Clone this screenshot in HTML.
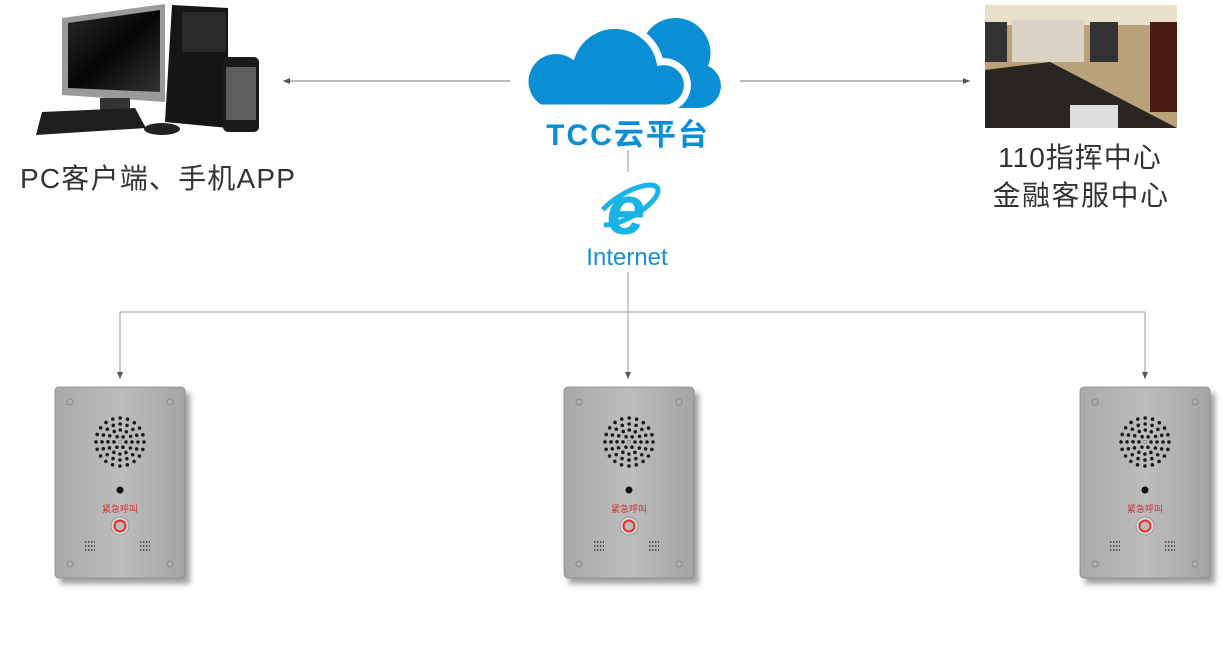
<!DOCTYPE html>
<html><head><meta charset="utf-8"><style>
html,body{margin:0;padding:0;background:#fff;}
svg{display:block;}
</style></head><body>
<svg width="1223" height="670" viewBox="0 0 1223 670" xmlns="http://www.w3.org/2000/svg">
<defs>
<linearGradient id="steel" x1="0" y1="0" x2="1" y2="0">
<stop offset="0" stop-color="#a9a9a9"/><stop offset="0.5" stop-color="#bdbdbd"/><stop offset="1" stop-color="#a4a4a4"/>
</linearGradient>
<linearGradient id="scr" x1="0" y1="0" x2="1" y2="1"><stop offset="0" stop-color="#2a2a2a"/><stop offset="0.5" stop-color="#050505"/><stop offset="1" stop-color="#333"/></linearGradient>
<filter id="bl" x="-20%" y="-20%" width="140%" height="140%"><feGaussianBlur stdDeviation="3"/></filter>
<marker id="ar" markerWidth="8" markerHeight="8" refX="7" refY="4" orient="auto" markerUnits="userSpaceOnUse"><path d="M0,1 L7,4 L0,7 Z" fill="#555"/></marker>
<g id="panel">
<rect x="5" y="6" width="130" height="191" fill="#777" opacity="0.7" filter="url(#bl)"/>
<rect x="0" y="0" width="130" height="191" rx="4" fill="url(#steel)" stroke="#888" stroke-width="0.8"/>
<circle cx="15" cy="15" r="3" fill="#b0b0b0" stroke="#888"/><circle cx="115" cy="15" r="3" fill="#b0b0b0" stroke="#888"/>
<circle cx="15" cy="177" r="3" fill="#b0b0b0" stroke="#888"/><circle cx="115" cy="177" r="3" fill="#b0b0b0" stroke="#888"/>
<g fill="none" stroke="#1a1a1a" stroke-linecap="round" stroke-width="3.6">
<circle cx="65" cy="55" r="0.1" stroke-width="3.8"/>
<circle cx="65" cy="55" r="6" stroke-dasharray="0 6.28"/>
<circle cx="65" cy="55" r="12" stroke-dasharray="0 6.28"/>
<circle cx="65" cy="55" r="18" stroke-dasharray="0 7.07"/>
<circle cx="65" cy="55" r="24" stroke-dasharray="0 7.54"/>
</g>
<circle cx="65" cy="103" r="3.5" fill="#111"/>
<circle cx="65" cy="139" r="9" fill="#d8d8d8" stroke="#999"/>
<circle cx="65" cy="139" r="5.5" fill="#bbb" stroke="#e03030" stroke-width="2"/>
<g fill="none" stroke="#333" stroke-width="1.6" stroke-dasharray="1.4 1.6">
<line x1="30" y1="155" x2="40" y2="155"/><line x1="30" y1="159" x2="40" y2="159"/><line x1="30" y1="163" x2="40" y2="163"/>
<line x1="85" y1="155" x2="95" y2="155"/><line x1="85" y1="159" x2="95" y2="159"/><line x1="85" y1="163" x2="95" y2="163"/>
</g>
</g>
</defs>

<g stroke="#9a9a9a" stroke-width="1" fill="none">
<line x1="510" y1="81" x2="283" y2="81" marker-end="url(#ar)" stroke="#777"/>
<line x1="740" y1="81" x2="970" y2="81" marker-end="url(#ar)" stroke="#777"/>
<line x1="628" y1="150" x2="628" y2="172"/>
<line x1="628" y1="272" x2="628" y2="379" marker-end="url(#ar)"/>
<polyline points="120,379 120,312 1145,312 1145,379"/>
<line x1="120" y1="360" x2="120" y2="379" marker-end="url(#ar)"/>
<line x1="1145" y1="360" x2="1145" y2="379" marker-end="url(#ar)"/>
</g>

<path d="M62,18 L165,4 L165,102 L62,95 Z" fill="#9a9a9a"/>
<path d="M68,23 L160,10 L160,92 L68,88 Z" fill="url(#scr)"/>
<rect x="100" y="98" width="30" height="14" fill="#333"/>
<path d="M42,112 L135,108 L146,128 L36,135 Z" fill="#1e1e1e"/>
<ellipse cx="162" cy="129" rx="18" ry="6" fill="#222"/>
<path d="M172,5 L228,8 L228,128 L165,122 Z" fill="#151515"/>
<rect x="182" y="12" width="44" height="40" fill="#2a2a2a"/>
<rect x="223" y="57" width="36" height="75" rx="5" fill="#1a1a1a"/>
<rect x="226" y="67" width="30" height="53" fill="#5e5e5e"/>
<text x="20" y="188" font-family="Liberation Sans, 'Noto Sans CJK SC', sans-serif" font-size="28" fill="#333" letter-spacing="1.2">PC客户端、手机APP</text>

<g fill="#0a8fd4">
<path d="M640,108 L700,108 A22,22 0 0 0 708,66 A34,34 0 0 0 643,40 A40,40 0 0 0 632,38 Z"/>
<path d="M540,108 L668,108 A22,22 0 0 0 660,62 A46,46 0 0 0 572,55 A24,24 0 0 0 540,108 Z" stroke="#fff" stroke-width="7"/>
</g>
<text x="628" y="145" text-anchor="middle" font-family="Liberation Sans, 'Noto Sans CJK SC', sans-serif" font-size="30" font-weight="bold" fill="#0a8fd4" letter-spacing="2">TCC云平台</text>

<text x="626" y="234" text-anchor="middle" font-family="Liberation Sans, sans-serif" font-size="70" font-style="italic" font-weight="bold" fill="#1ab3e8">e</text>
<ellipse cx="628" cy="205" rx="34" ry="12" fill="none" stroke="#1ab3e8" stroke-width="5" transform="rotate(-30 628 205)" stroke-dasharray="70 20 200"/>
<text x="627" y="265" text-anchor="middle" font-family="Liberation Sans, sans-serif" font-size="24" fill="#1a8fd0">Internet</text>

<rect x="985" y="5" width="192" height="123" fill="#b9a27a"/>
<rect x="985" y="5" width="192" height="20" fill="#e8e0c8"/>
<rect x="1012" y="20" width="72" height="42" fill="#d8d3c4"/>
<rect x="985" y="22" width="22" height="40" fill="#333"/>
<rect x="1090" y="22" width="28" height="40" fill="#333"/>
<rect x="1150" y="22" width="27" height="90" fill="#4a1c12"/>
<path d="M985,70 L1050,62 L1177,128 L985,128 Z" fill="#2a2520"/>
<rect x="1070" y="105" width="48" height="23" fill="#ddd"/>
<text x="1080" y="167" text-anchor="middle" font-family="Liberation Sans, 'Noto Sans CJK SC', sans-serif" font-size="28" fill="#333" letter-spacing="1">110指挥中心</text>
<text x="1081" y="205" text-anchor="middle" font-family="Liberation Sans, 'Noto Sans CJK SC', sans-serif" font-size="28" fill="#333" letter-spacing="1.5">金融客服中心</text>

<use href="#panel" x="55" y="387"/>
<use href="#panel" x="564" y="387"/>
<use href="#panel" x="1080" y="387"/>
<g font-family="'Noto Sans CJK SC', sans-serif" font-size="9" fill="#d03030" text-anchor="middle">
<text x="120" y="512">紧急呼叫</text>
<text x="629" y="512">紧急呼叫</text>
<text x="1145" y="512">紧急呼叫</text>
</g>
</svg>
</body></html>
